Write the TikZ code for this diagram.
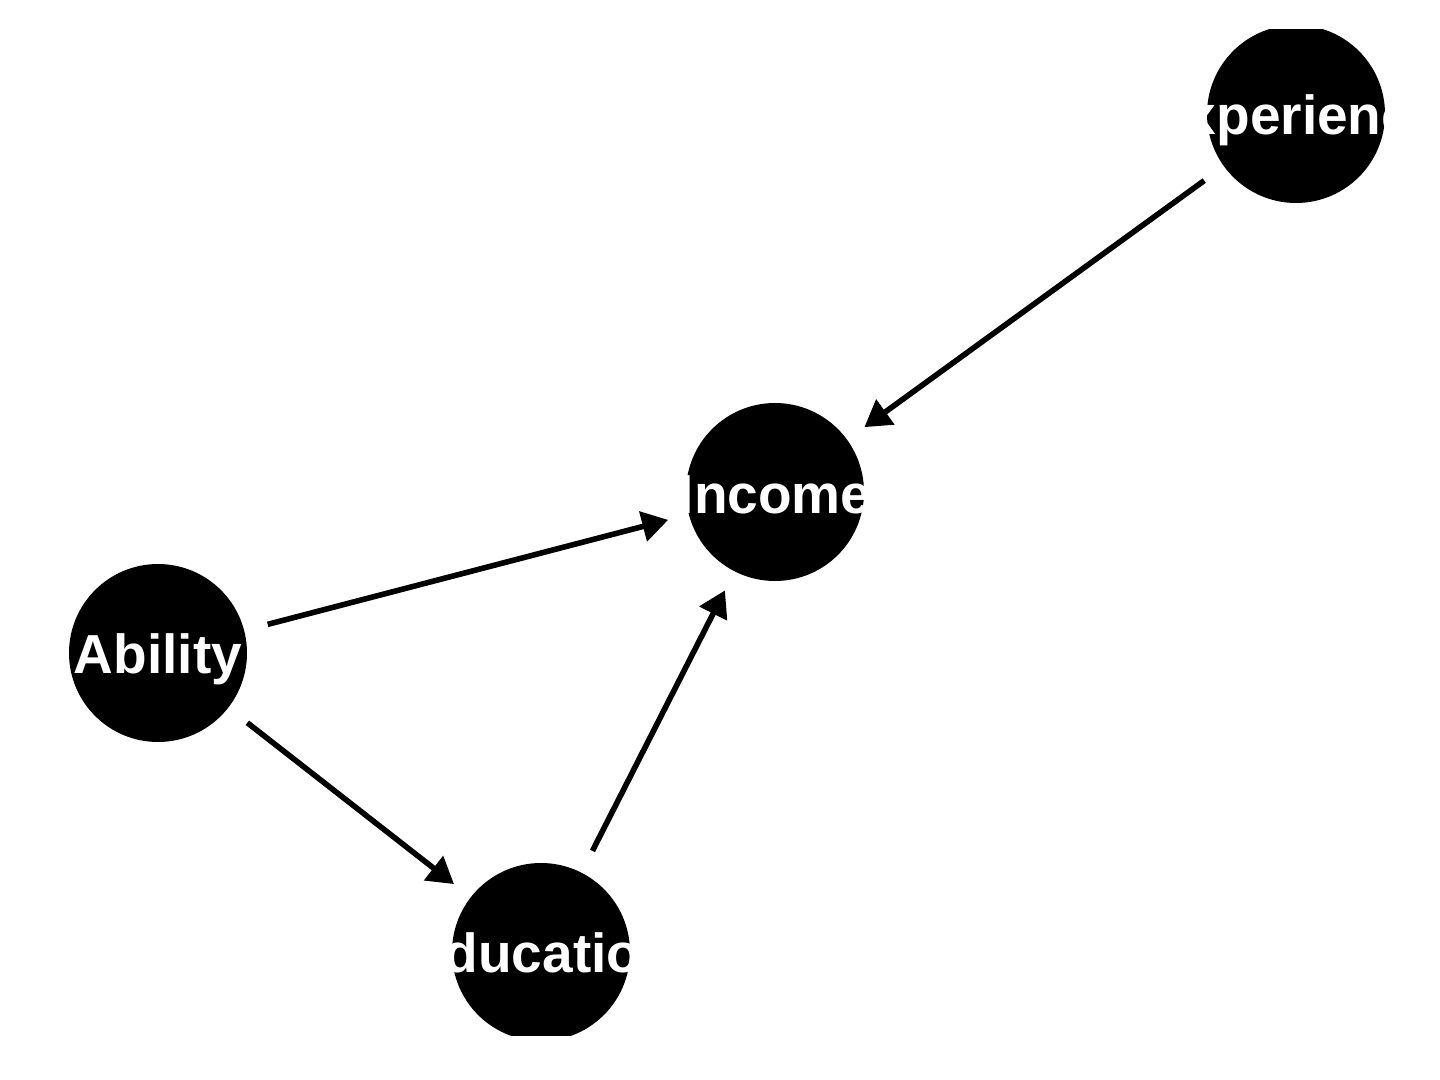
\documentclass[tikz,border=0pt]{standalone}
\usepackage{fontspec}
\setmainfont{Liberation Sans}
\usetikzlibrary{arrows.meta}
\begin{document}
\begin{tikzpicture}[x=0.5pt,y=-0.5pt,
  dagnode/.style={circle,fill=black,draw=none,minimum size=89pt,inner sep=0pt},
  dagtext/.style={text=white,font=\fontsize{27.5pt}{32pt}\selectfont\bfseries,anchor=base,inner sep=0pt},
  dagedge/.style={line width=2.8pt,line cap=butt,-{Triangle[length=13pt,width=15pt]},shorten <=12pt,shorten >=10.5pt}]
\useasboundingbox (0,0) rectangle (1440,1080);
\fill[white] (0,0) rectangle (1440,1080);
\clip (0,30) rectangle (1440,1035);
\node[dagnode] (exp) at (1296,114) {};
\node[dagnode] (inc) at (775,492) {};
\node[dagnode] (abi) at (158,653) {};
\node[dagnode] (edu) at (541,952) {};
\draw[dagedge] (exp) -- (inc);
\draw[dagedge] (abi) -- (inc);
\draw[dagedge] (abi) -- (edu);
\draw[dagedge] (edu) -- (inc);
\node[dagtext] (exptext) at (1296,135) {Experience};
\node[dagtext] (inctext) at (775,513) {Income};
\node[dagtext] (abitext) at (158,673) {Ability};
\node[dagtext] (edutext) at (541,972) {Education};
\end{tikzpicture}
\end{document}
